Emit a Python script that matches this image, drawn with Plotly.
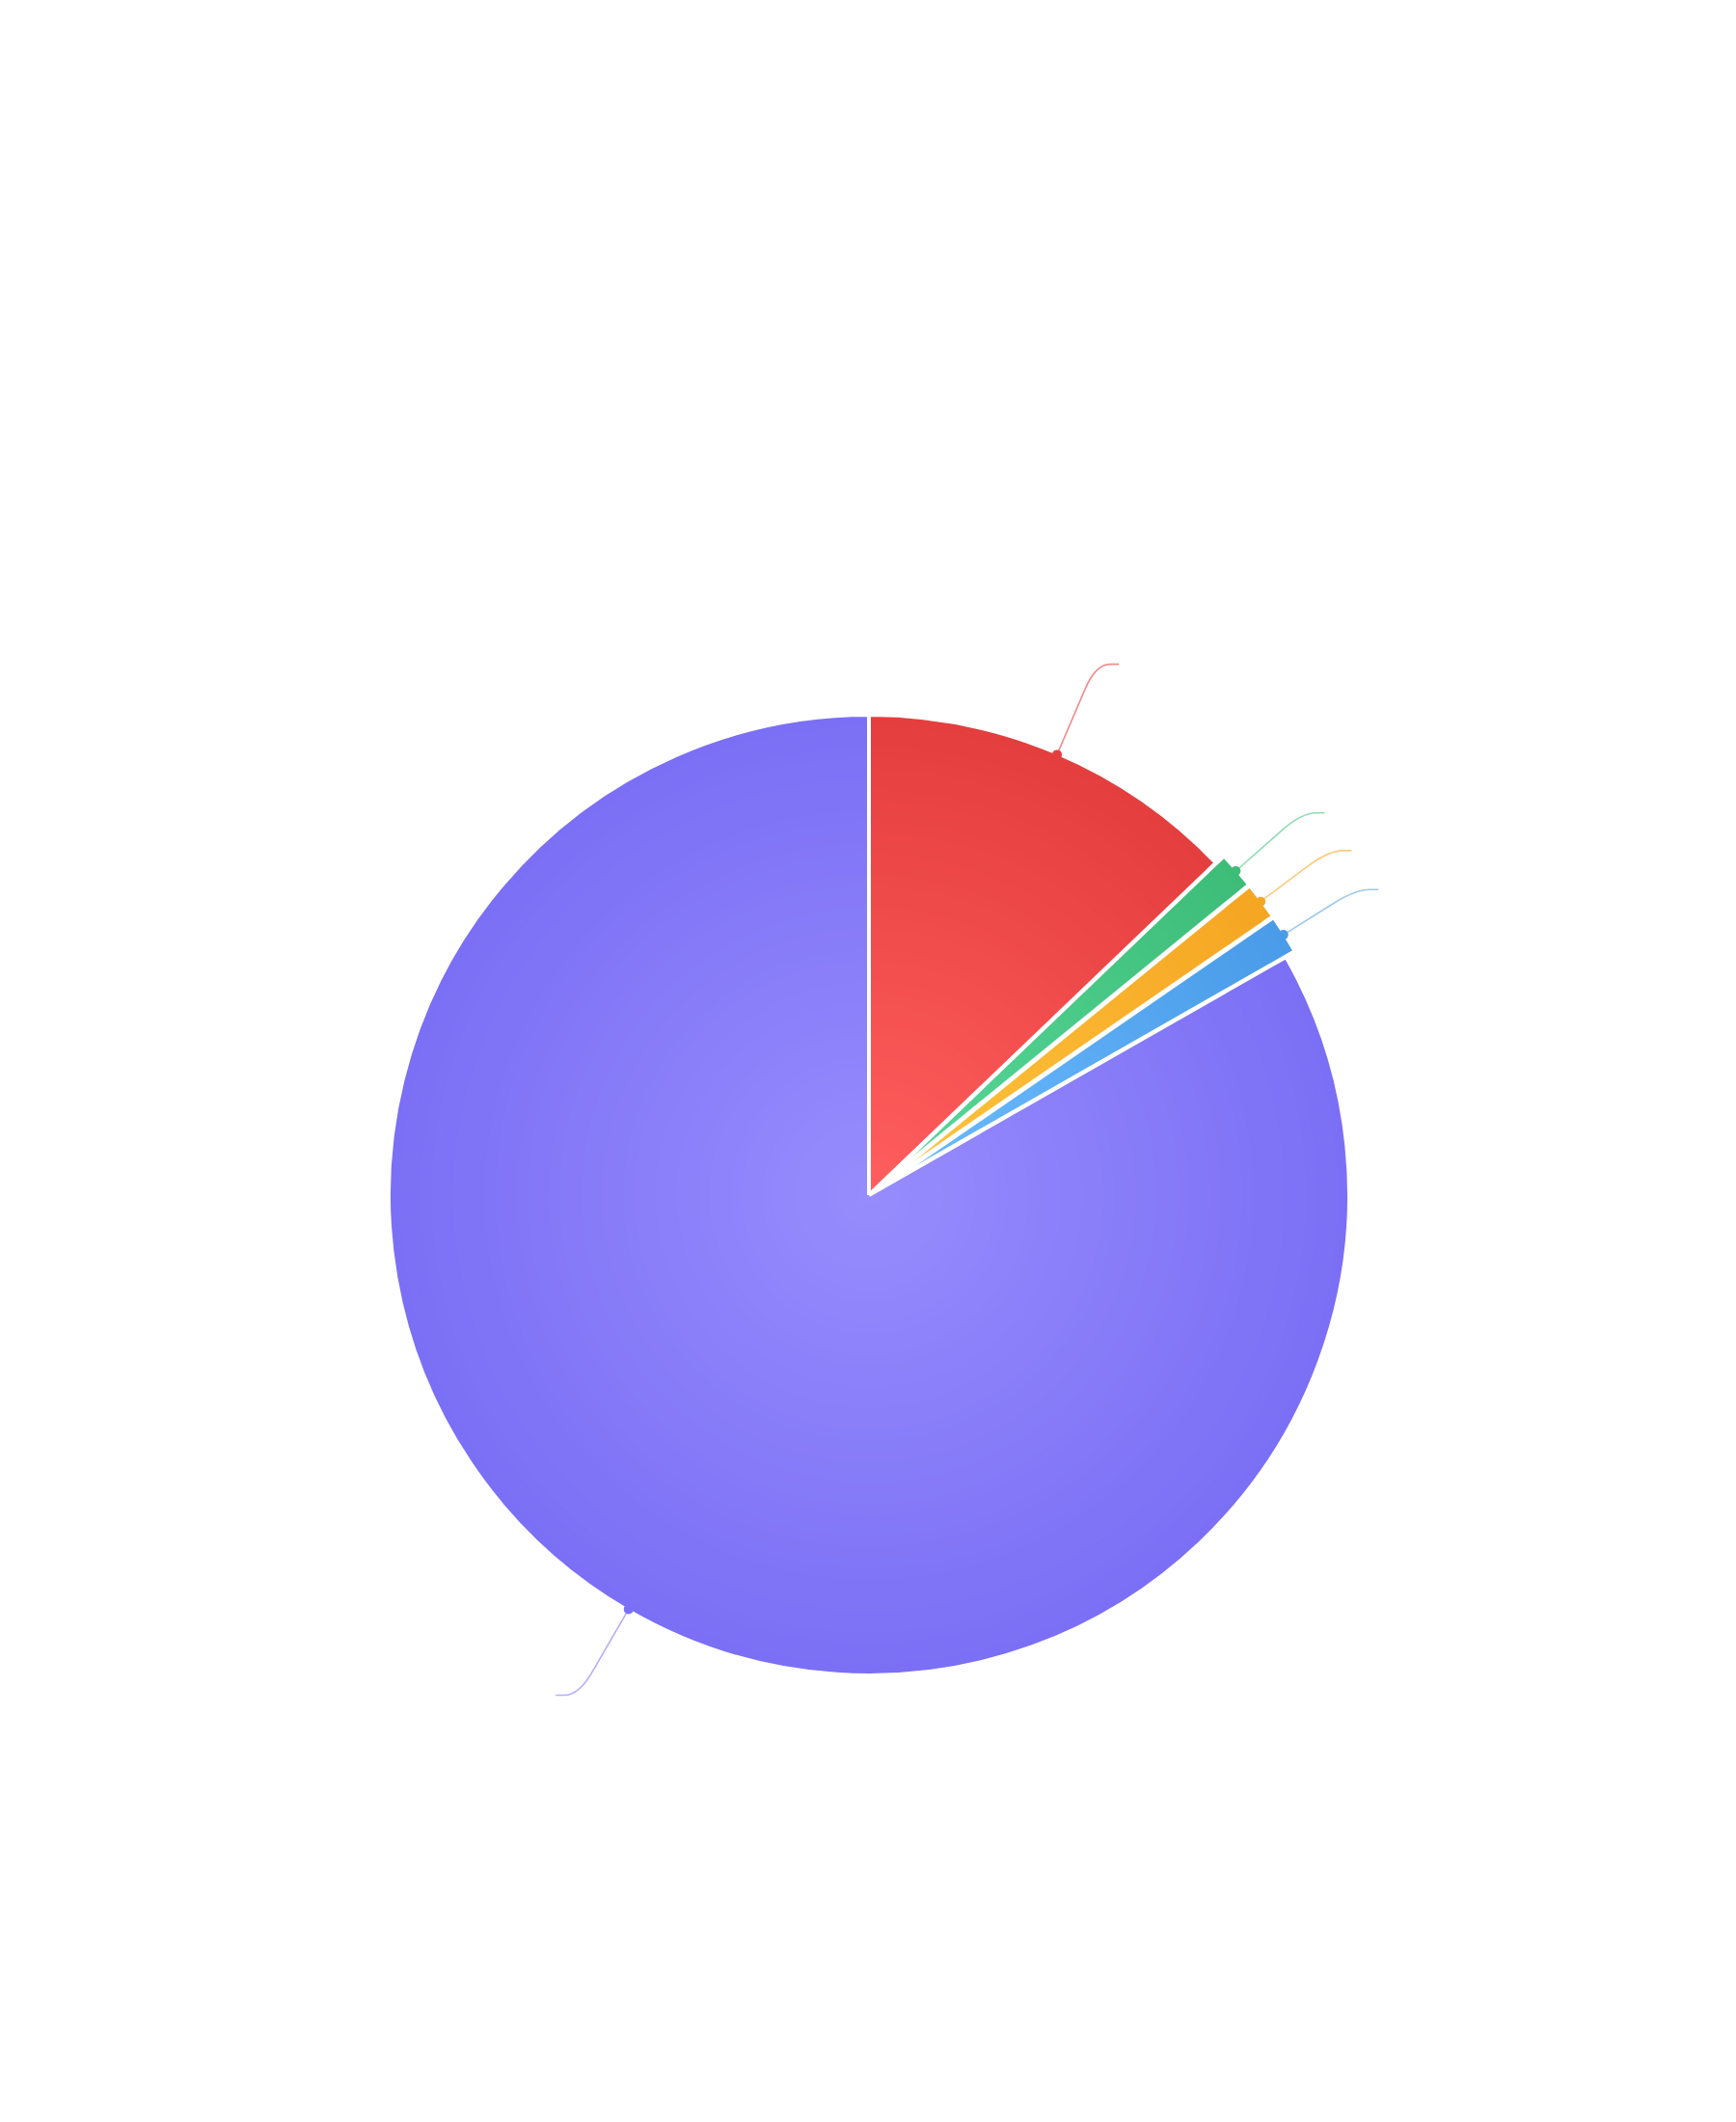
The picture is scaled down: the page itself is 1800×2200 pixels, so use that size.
import numpy as np
import plotly.graph_objects as go

# slice data (clockwise from 12 o'clock), in percent
categories = ["Category A", "Category B", "Category C", "Category D", "Category E"]
values = [12.85, 1.27, 1.29, 1.33, 83.26]
pulled = [0, 1, 1, 1, 0]

# styling: outer (edge) colour and inner (centre) colour of each slice
edge_colors = ["#E53E3E", "#3DBD78", "#F5A623", "#4A9BE8", "#7B6FF5"]
centre_colors = ["#FF5E5E", "#5AD99B", "#FFC53D", "#6CBDFF", "#978CFD"]
line_colors = ["#F28C8C", "#8EDCB2", "#FDCB7D", "#9DC8F2", "#B5AEFB"]
leader_len = [102, 91, 88, 88, 103]
LEADER_TAIL = 24

W, H = 1800, 2200
CX, CY = 893, 1231      # pie centre in pixels (inside the plot div)
R = 498                 # pie radius in pixels
PULL_PX = 11
N_LAYERS = 45


def hex_to_rgb(h):
    h = h.lstrip("#")
    return np.array([int(h[i:i + 2], 16) for i in (0, 2, 4)], dtype=float)


def mix(c1, c2, t):
    c = hex_to_rgb(c1) * (1 - t) + hex_to_rgb(c2) * t
    return "rgb(%d,%d,%d)" % tuple(np.round(c).astype(int))


fig = go.Figure()

# concentric pie layers imitate the radial gradient fill
for k in range(N_LAYERS):
    rk = R * (1 - k / N_LAYERS)
    t = k / (N_LAYERS - 1)
    pull_k = PULL_PX / rk
    half_box = rk + PULL_PX
    fig.add_trace(
        go.Pie(
            labels=categories,
            values=values,
            sort=False,
            direction="clockwise",
            rotation=0,
            pull=[p * pull_k for p in pulled],
            marker=dict(
                colors=[mix(e, c, t) for e, c in zip(edge_colors, centre_colors)],
                line=dict(color="#FFFFFF", width=4 if k == 0 else 0),
            ),
            textinfo="none",
            hoverinfo="label+percent" if k == 0 else "skip",
            showlegend=False,
            domain=dict(
                x=[(CX - half_box) / W, (CX + half_box) / W],
                y=[(H - CY - half_box) / H, (H - CY + half_box) / H],
            ),
        )
    )

shapes = []

fractions = np.array(values) / np.sum(values)
ends = np.cumsum(fractions) * 360
starts = ends - fractions * 360
mids = np.radians((starts + ends) / 2)

# white separators between slices (each slice edge moved with its pull)
for i in range(len(values)):
    ox = pulled[i] * PULL_PX * np.sin(mids[i])
    oy = -pulled[i] * PULL_PX * np.cos(mids[i])
    for a in (starts[i], ends[i]):
        ar = np.radians(a)
        shapes.append(
            dict(type="line", xref="x", yref="y", layer="above",
                 x0=CX + ox, y0=CY + oy,
                 x1=CX + ox + R * np.sin(ar), y1=CY + oy - R * np.cos(ar),
                 line=dict(color="#FFFFFF", width=4))
        )

# leader lines with dots, placed from the slice angles
for i in range(len(values)):
    dx, dy = np.sin(mids[i]), -np.cos(mids[i])
    rs = R - 1.5 + pulled[i] * PULL_PX
    sx, sy = CX + rs * dx, CY + rs * dy
    cx, cy = sx + leader_len[i] * dx, sy + leader_len[i] * dy
    side = 1 if dx > 0 else -1
    ex, ey = cx + side * LEADER_TAIL, cy
    k1, k2 = 28, 15
    p1x, p1y = cx - k1 * dx, cy - k1 * dy
    p2x, p2y = cx + side * k2, cy
    path = "M %.1f,%.1f L %.1f,%.1f Q %.1f,%.1f %.1f,%.1f L %.1f,%.1f" % (
        sx, sy, p1x, p1y, cx, cy, p2x, p2y, ex, ey
    )
    shapes.append(
        dict(type="path", xref="x", yref="y", layer="above", path=path,
             line=dict(color=line_colors[i], width=1.6))
    )
    dr = 5
    shapes.append(
        dict(type="circle", xref="x", yref="y", layer="above",
             x0=sx - dr, x1=sx + dr, y0=sy - dr, y1=sy + dr,
             fillcolor=edge_colors[i], line=dict(width=0))
    )

fig.update_layout(
    width=W,
    height=H,
    margin=dict(l=0, r=0, t=0, b=0),
    paper_bgcolor="#FFFFFF",
    plot_bgcolor="rgba(0,0,0,0)",
    xaxis=dict(range=[0, W], visible=False, fixedrange=True),
    yaxis=dict(range=[H, 0], visible=False, fixedrange=True),
    shapes=shapes,
    showlegend=False,
)

fig.write_html("out.html")
